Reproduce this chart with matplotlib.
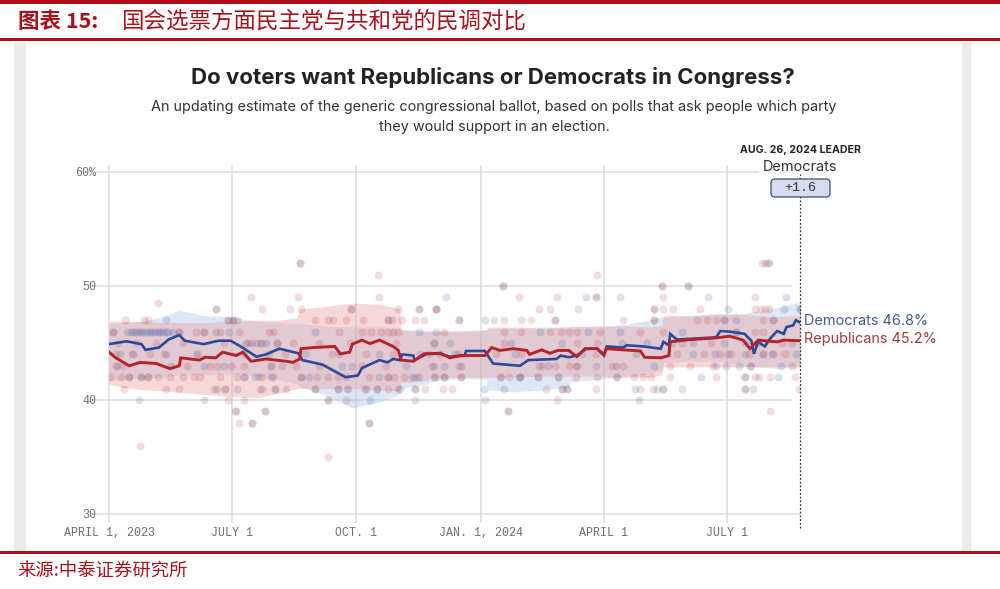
import matplotlib
matplotlib.use("Agg")
import matplotlib.pyplot as plt
from matplotlib.patches import Rectangle, FancyBboxPatch

W, H = 1000, 589
CJK = ['Noto Sans CJK SC', 'DejaVu Sans']

# Averages
dem_days = [0,13,24,27,37,44,52,56,70,81,90,98,109,116,126,140,143,158,175,184,187,200,206,210,215,217,225,226,235,
            245,252,263,264,278,281,284,304,310,331,334,340,346,353,361,366,368,380,383,395,408,410,414,415,420,435,
            449,452,459,470,475,477,480,485,489,494,499,501,506,508,511]
dem_vals = [44.9,45.15,44.9,44.4,44.6,45.3,45.7,45.2,44.9,45.2,45.2,44.65,43.8,44.0,44.5,44.1,43.5,43.1,42.0,42.15,42.8,43.5,43.3,43.6,43.5,44.0,43.9,43.5,44.05,
            44.05,43.8,43.9,44.3,44.3,43.75,43.2,43.0,43.5,43.6,43.9,43.75,43.9,44.5,44.5,43.9,44.7,44.6,44.8,44.7,44.5,45.1,44.8,45.8,45.3,45.4,
            45.5,46.05,46.0,45.8,45.2,44.05,45.1,44.7,45.4,46.05,45.8,46.4,46.55,47.0,46.8]
rep_days = [0,5,15,23,35,45,52,53,67,71,79,84,94,99,105,116,131,136,141,142,151,167,171,178,180,187,193,200,210,214,216,225,233,
            245,252,260,278,283,289,299,309,311,320,326,332,340,346,352,361,366,368,380,393,396,408,414,415,430,449,459,469,474,480,494,499,511]
rep_vals = [44.2,43.7,43.0,43.3,43.2,42.75,43.0,43.7,43.5,43.75,43.7,44.2,43.9,44.2,43.4,43.6,43.4,43.3,43.6,44.5,44.6,44.7,44.05,44.2,44.9,45.25,44.95,45.25,44.7,44.35,43.5,43.4,44.05,
            44.1,43.7,43.9,43.9,44.6,44.35,44.5,44.35,44.0,44.4,44.1,44.35,44.35,43.8,44.5,44.5,44.0,44.5,44.4,44.3,43.75,43.7,43.9,45.1,45.3,45.45,45.6,45.25,44.5,45.25,45.1,45.25,45.2]

# Uncertainty bands
band_days = [0,10,25,40,52,70,90,110,125,139,141,160,180,200,215,216,236,237,260,279,280,300,320,340,341,360,380,400,409,410,430,450,470,490,511]
dem_upper = [46.7,46.8,46.9,47.3,47.9,47.4,47.3,46.9,46.8,46.7,46.7,46.5,46.4,46.4,46.3,46.2,46.1,46.1,46.1,46.2,46.3,46.3,46.4,46.4,46.5,46.4,46.6,47.0,47.3,47.3,47.4,47.6,47.6,48.0,48.6]
dem_lower = [41.7,41.8,41.9,42.0,42.2,42.2,42.3,42.1,41.8,41.4,41.2,40.4,39.3,39.8,40.5,41.0,41.4,41.6,41.9,41.8,40.9,40.7,40.9,41.1,41.6,41.8,42.0,42.3,42.6,43.3,43.4,43.4,43.0,42.8,42.8]
rep_upper = [46.9,46.9,46.9,46.8,46.8,46.8,46.9,47.0,47.0,47.2,48.0,48.2,48.5,48.4,48.0,46.1,46.0,46.0,46.0,46.1,46.4,46.4,46.3,46.4,46.4,46.5,46.5,46.4,46.5,47.4,47.4,47.5,47.5,47.3,47.4]
rep_lower = [41.4,41.1,40.9,40.8,40.7,40.5,40.3,40.2,40.6,41.0,41.0,41.0,41.0,40.9,40.8,41.5,41.7,41.9,42.0,42.0,42.0,42.0,42.1,42.1,42.1,42.1,42.0,42.0,42.2,42.9,42.9,42.9,42.9,42.9,43.0]

# Polls: days at which a party's poll sits on each value
poll_values = [52, 51, 50, 49, 48.5, 48, 47, 46, 45, 44, 43, 42, 41, 40, 39, 38, 36, 35]
dem_poll_days = [
    [141,485,488],
    [],
    [291,409,428],
    [249,353,360,378,443,501],
    [],
    [79,179,229,242,347,403,458,499,511],
    [42,88,92,206,259,278,330,403,455,464,491],
    [3,13,16,18,20,22,24,26,28,30,32,34,36,38,40,42,44,47,52,70,79,89,152,229,242,319,354,378,424,464],
    [101,105,109,113,116,124,240,252,297,335,379,398,416,432,455,470,505],
    [8,18,42,64,100,118,145,170,200,230,245,256,300,350,390,432,448,458,470,484,490,508],
    [6,46,70,85,120,172,180,220,240,248,260,318,325,345,360,375,403,449,456,466,475,497],
    [15,24,29,95,100,108,111,120,142,148,200,206,224,229,240,248,260,290,304,303,317,332,376,438,495,470],
    [80,86,95,113,123,152,169,177,190,198,215,226,277,292,335,339,389,405,410,424,470,476],
    [22,70,162,193,278,392],
    [93,115,295],
    [106,192],
    [],
    [],
]
rep_poll_days = [
    [141,483,487],
    [199,361],
    [291,409,428],
    [140,200,105,303,331,360,410,478],
    [36],
    [79,113,134,142,179,214,229,242,242,318,326,403,410,417,437,478,482,485,488,511],
    [12,26,29,88,92,95,152,162,166,175,188,206,209,217,226,233,259,285,292,305,312,330,380,403,435,442,449,455,484,491],
    [3,52,64,70,82,96,118,121,170,187,194,201,206,210,214,248,292,305,326,334,340,346,363,393,410,464,478,484],
    [7,20,35,55,85,103,112,124,136,155,178,212,240,292,346,361,424,445,480,498],
    [5,17,30,41,66,130,165,190,210,237,258,286,305,360,420,440,452,460,473,484,491,500],
    [5,10,58,75,80,90,100,120,128,138,155,187,205,239,259,320,330,340,346,372,380,415,430,447,474,505],
    [1,9,15,24,29,36,45,55,63,67,82,100,113,121,142,154,162,169,175,192,206,211,218,226,241,248,260,289,296,304,317,332,345,361,375,388,395,401,415,449,470,478,481,489,507],
    [11,42,52,78,86,112,123,131,152,169,176,189,198,206,214,226,234,247,254,323,335,339,360,393,402,410,470,510],
    [88,100,162,175,226,331],
    [94,115,295,489],
    [106,192,96],
    [23],
    [162],
]

x_ticks = [0,91,183,275,366,457]
x_labels = ['APRIL 1, 2023','JULY 1','OCT. 1','JAN. 1, 2024','APRIL 1','JULY 1']
y_ticks = [30,40,50,60]
y_labels = ['30','40','50','60%']

BLUE, RED = '#2b4a9b', '#b5222a'
GRID = '#dcdcdc'

fig = plt.figure(figsize=(W/100, H/100), dpi=100, facecolor='white')

def px(x, y):
    return x/W, 1-y/H

def ftext(x, y, s, **k):
    k.setdefault('va', 'center')
    fig.text(*px(x, y), s, **k)

def frect(x0, y0, x1, y1, c, z=0):
    fig.add_artist(Rectangle((x0/W, 1-y1/H), (x1-x0)/W, (y1-y0)/H, transform=fig.transFigure, fc=c, ec='none', zorder=z))

# Page furniture
frect(14, 42, 26, 551, '#ececec')
frect(962, 42, 971, 551, '#ececec')
frect(0, 0, 1000, 4, '#b00f1c', 3)
frect(0, 38, 1000, 41, '#a5101c', 3)
frect(0, 551, 1000, 554, '#a5101c', 3)
ftext(18, 21, '图表 15:', family=CJK, fontsize=15.5, weight='bold', color='#a5121d')
ftext(121, 21, '国会选票方面民主党与共和党的民调对比', family=CJK, fontsize=16.2, color='#a5121d')
ftext(17, 572, '来源:中泰证券研究所', family=CJK, fontsize=13.2, color='#a5121d')

# Chart titles
ftext(493, 77, 'Do voters want Republicans or Democrats in Congress?', family='Inter', weight='bold', fontsize=16, ha='center', color='#222222')
ftext(494, 107, 'An updating estimate of the generic congressional ballot, based on polls that ask people which party',
      family='Inter', fontsize=10.4, ha='center', color='#333333')
ftext(494, 127, 'they would support in an election.', family='Inter', fontsize=10.4, ha='center', color='#333333')

ax = fig.add_axes([109/W, 1-514/H, 691/W, 342/H])
ax.set_xlim(0, 511)
ax.set_ylim(30, 60)
ax.patch.set_alpha(0)
for s in ax.spines.values():
    s.set_visible(False)

ax.set_xticks(x_ticks, x_labels, family='Liberation Mono', fontsize=8.4, color='#6f6f6f')
ax.set_yticks(y_ticks, y_labels, family='Liberation Mono', fontsize=8.4, color='#6f6f6f')
ax.tick_params(length=0)
ax.tick_params(axis='x', pad=9.5)
ax.tick_params(axis='y', pad=9)

ax.vlines(x_ticks, 29.2, 60.6, color=GRID, lw=1.1, clip_on=False, zorder=1)
ax.hlines([30, 40, 50], -10, [511, 505, 505], color=GRID, lw=1.1, clip_on=False, zorder=1)
ax.hlines(60, -10, 481, color=GRID, lw=1.1, clip_on=False, zorder=1)

ax.fill_between(band_days, dem_lower, dem_upper, color='#a9c2e6', alpha=0.38, lw=0, zorder=2)
ax.fill_between(band_days, rep_lower, rep_upper, color='#eb9a9a', alpha=0.38, lw=0, zorder=2)

for v, days in zip(poll_values, dem_poll_days):
    ax.scatter(days, [v]*len(days), s=33, color='#34509c', alpha=0.17, lw=0, zorder=3)
for v, days in zip(poll_values, rep_poll_days):
    ax.scatter(days, [v]*len(days), s=33, color='#b8333a', alpha=0.17, lw=0, zorder=3)

ax.plot(dem_days, dem_vals, color=BLUE, lw=1.9, zorder=5, solid_joinstyle='miter')
ax.plot(rep_days, rep_vals, color=RED, lw=2.1, zorder=6, solid_joinstyle='miter')
ax.vlines(511, 28.8, 59.8, color='#333333', lw=0.9, linestyles=(0, (1.5, 1.5)), clip_on=False, zorder=7)

ftext(800, 150, 'AUG. 26, 2024 LEADER', family='Inter', weight='bold', fontsize=7.6, ha='center', color='#222222')
ftext(800, 167, 'Democrats', family='Inter', fontsize=10.4, ha='center', color='#333333')
fig.add_artist(FancyBboxPatch((771/W, 1-197/H), 59/W, 18/H, boxstyle='round,pad=0,rounding_size=0.004',
                              transform=fig.transFigure, fc='#d5dcef', ec='#3d4d7d', lw=0.9, zorder=8, mutation_aspect=W/H))
ftext(800.5, 188, '+1.6', family='Liberation Mono', fontsize=9.5, ha='center', color='#333333', zorder=9)
ftext(804, 321, 'Democrats 46.8%', family='Inter', fontsize=10.4, color='#465b87')
ftext(804, 339, 'Republicans 45.2%', family='Inter', fontsize=10.4, color='#a23a3d')

fig.savefig('out.png', dpi=100)
